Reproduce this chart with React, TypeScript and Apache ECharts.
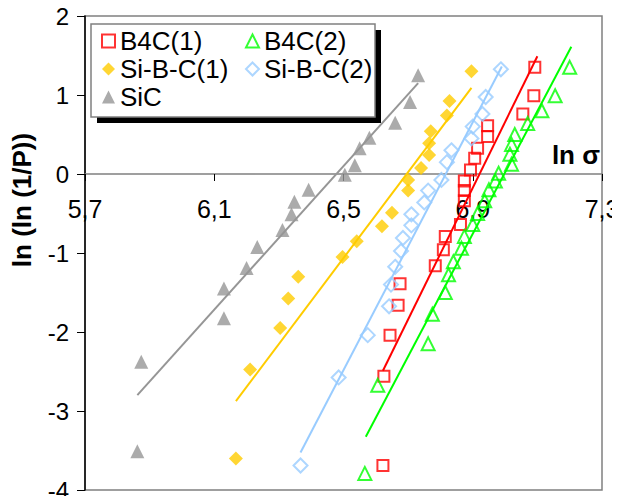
import React, { useEffect, useRef } from "react";
import * as echarts from "echarts";

// ---- Data ----
const xTicks = ["5,7", "6,1", "6,5", "6,9", "7,3"];

const b4c1X = [6.622, 6.625, 6.644, 6.669, 6.675, 6.784, 6.809, 6.815, 6.862, 6.874, 6.874, 6.874, 6.893, 6.906, 6.915, 6.946, 6.946, 7.055, 7.089, 7.092];
const b4c1Y = [-3.69, -2.56, -2.04, -1.66, -1.39, -1.16, -0.96, -0.79, -0.64, -0.34, -0.21, -0.09, 0.05, 0.2, 0.325, 0.475, 0.61, 0.76, 0.99, 1.35];

const b4c2X = [6.566, 6.606, 6.762, 6.775, 6.815, 6.825, 6.84, 6.865, 6.874, 6.9, 6.915, 6.937, 6.95, 6.97, 6.98, 7.02, 7.015, 7.02, 7.03, 7.07, 7.114, 7.155, 7.2];
const b4c2Y = [-3.79, -2.675, -2.15, -1.775, -1.5, -1.275, -1.11, -0.94, -0.79, -0.64, -0.5, -0.34, -0.2, -0.09, 0.01, 0.125, 0.25, 0.375, 0.5, 0.64, 0.8, 0.99, 1.35];

const sbc1X = [6.167, 6.211, 6.304, 6.329, 6.36, 6.497, 6.541, 6.619, 6.65, 6.7, 6.7, 6.74, 6.765, 6.765, 6.77, 6.82, 6.828, 6.896];
const sbc1Y = [-3.6, -2.475, -1.95, -1.575, -1.3, -1.05, -0.85, -0.66, -0.49, -0.21, -0.075, 0.075, 0.24, 0.39, 0.54, 0.74, 0.925, 1.3];

const sbc2X = [6.367, 6.485, 6.575, 6.641, 6.647, 6.66, 6.678, 6.684, 6.71, 6.71, 6.75, 6.762, 6.803, 6.82, 6.834, 6.896, 6.9, 6.93, 6.94, 6.987];
const sbc2Y = [-3.69, -2.575, -2.04, -1.675, -1.4, -1.175, -0.975, -0.81, -0.65, -0.51, -0.36, -0.21, -0.075, 0.15, 0.3, 0.45, 0.6, 0.76, 0.975, 1.325];

const sicX = [5.862, 5.874, 6.13, 6.13, 6.2, 6.233, 6.311, 6.339, 6.348, 6.392, 6.504, 6.535, 6.55, 6.58, 6.66, 6.706, 6.731];
const sicY = [-3.51, -2.375, -1.825, -1.45, -1.19, -0.925, -0.71, -0.51, -0.35, -0.2, -0.01, 0.11, 0.325, 0.46, 0.65, 0.91, 1.25];

// trend-line end points [x, y]
const b4c1Fit = [[6.622, -2.49], [7.1, 1.49]];
const b4c2Fit = [[6.569, -3.325], [7.205, 1.61]];
const sbc1Fit = [[6.167, -2.875], [6.896, 1.09]];
const sbc2Fit = [[6.367, -3.525], [6.99, 1.36]];
const sicFit = [[5.862, -2.8], [6.731, 1.15]];

const zip = (xs: number[], ys: number[]) => xs.map((x, i) => [x, ys[i]]);

const FONT = "'Liberation Sans', Arial, sans-serif";

export default function App() {
  const ref = useRef<HTMLDivElement>(null);

  useEffect(() => {
    if (!ref.current) return;
    const chart = echarts.init(ref.current, undefined, { renderer: "svg" });

    const RED = "#FF0000";
    const GREEN = "#00FF00";
    const YELLOW = "#FFCC00";
    const BLUE = "#99CCFF";
    const GRAY = "#969696";

    const GRID_TOP = 16;
    const GRID_BOTTOM = 14;
    const H = 504;
    const Y_MIN = -4;
    const Y_MAX = 2;
    const plotH = H - GRID_TOP - GRID_BOTTOM;
    // distance from the bottom of the plot to the y = 0 line
    const zeroFromBottom = (plotH * (0 - Y_MIN)) / (Y_MAX - Y_MIN);

    const scatter = (name: string, data: number[][], symbol: string, size: number, itemStyle: any) => ({
      name,
      type: "scatter",
      data,
      symbol,
      symbolSize: size,
      itemStyle,
      z: 3,
    });
    const fit = (name: string, data: number[][], color: string) => ({
      name: name + " fit",
      type: "line",
      data,
      showSymbol: false,
      symbol: "none",
      silent: true,
      lineStyle: { color, width: 2 },
      z: 2,
    });

    const styles: Record<string, any> = {
      "B4C(1)": { color: "rgba(0,0,0,0)", borderColor: RED, borderWidth: 2 },
      "B4C(2)": { color: "rgba(0,0,0,0)", borderColor: GREEN, borderWidth: 2 },
      "Si-B-C(1)": { color: YELLOW, borderWidth: 0 },
      "Si-B-C(2)": { color: "rgba(0,0,0,0)", borderColor: BLUE, borderWidth: 2 },
      SiC: { color: GRAY, borderWidth: 0 },
    };
    const icons: Record<string, string> = {
      "B4C(1)": "rect",
      "B4C(2)": "triangle",
      "Si-B-C(1)": "diamond",
      "Si-B-C(2)": "diamond",
      SiC: "triangle",
    };
    const legendItem = (n: string) => ({ name: n, icon: icons[n], itemStyle: styles[n] });
    const legendCommon = {
      orient: "vertical",
      itemWidth: 13,
      itemHeight: 13,
      itemGap: 0,
      padding: 0,
      selectedMode: false,
      textStyle: { fontSize: 26, fontFamily: FONT, color: "#000", lineHeight: 28, padding: [0, 0, 0, 0] },
      z: 10,
    };

    chart.setOption({
      animation: false,
      backgroundColor: "#fff",
      grid: {
        left: 85,
        right: 18,
        top: GRID_TOP,
        bottom: GRID_BOTTOM,
        show: true,
        borderColor: "#808080",
        borderWidth: 1.5,
        outerBoundsMode: "none",
        containLabel: false,
      },
      xAxis: {
        type: "value",
        min: 5.7,
        max: 7.3,
        interval: 0.4,
        position: "bottom",
        offset: -zeroFromBottom,
        axisLine: { show: true, onZero: false, lineStyle: { color: "#808080", width: 1.5 } },
        axisTick: { show: true, length: 7, lineStyle: { color: "#000" } },
        axisLabel: {
          fontSize: 25,
          fontFamily: FONT,
          color: "#000",
          margin: 22,
          formatter: (v: number) => {
            const idx = Math.round((v - 5.7) / 0.4);
            return xTicks[idx] ?? "";
          },
        },
        splitLine: { show: false },
      },
      yAxis: {
        type: "value",
        min: Y_MIN,
        max: Y_MAX,
        interval: 1,
        axisLine: { show: true, onZero: false, lineStyle: { color: "#000", width: 1.5 } },
        axisTick: { show: true, length: 8, lineStyle: { color: "#000" } },
        axisLabel: { fontSize: 24, fontFamily: FONT, color: "#000", margin: 16, lineHeight: 24 },
        splitLine: { show: false },
      },
      legend: [
        {
          ...legendCommon,
          left: 101,
          top: 27,
          data: ["B4C(1)", "Si-B-C(1)", "SiC"].map(legendItem),
        },
        {
          ...legendCommon,
          left: 245,
          top: 27,
          data: ["B4C(2)", "Si-B-C(2)"].map(legendItem),
        },
      ],
      graphic: [
        { type: "rect", z: 1, shape: { x: 97, y: 30, width: 284, height: 93 }, style: { fill: "#000" } },
        {
          type: "rect",
          z: 1,
          shape: { x: 91, y: 24, width: 284, height: 93 },
          style: { fill: "#fff", stroke: "#808080", lineWidth: 1.5 },
        },
        {
          type: "text",
          z: 5,
          x: 600,
          y: 168,
          style: {
            text: "ln σ",
            fontSize: 26,
            fontWeight: "bold",
            fontFamily: FONT,
            fill: "#000",
            align: "right",
            verticalAlign: "bottom",
          },
        },
        {
          type: "text",
          z: 5,
          x: 22,
          y: 200,
          rotation: Math.PI / 2,
          style: {
            text: "ln (ln (1/P))",
            fontSize: 26,
            fontWeight: "bold",
            fontFamily: FONT,
            fill: "#000",
            align: "center",
            verticalAlign: "middle",
          },
        },
      ],
      series: [
        fit("B4C(1)", b4c1Fit, RED),
        fit("B4C(2)", b4c2Fit, GREEN),
        fit("Si-B-C(1)", sbc1Fit, YELLOW),
        fit("Si-B-C(2)", sbc2Fit, BLUE),
        fit("SiC", sicFit, GRAY),
        scatter("B4C(1)", zip(b4c1X, b4c1Y), "rect", 11, styles["B4C(1)"]),
        scatter("B4C(2)", zip(b4c2X, b4c2Y), "triangle", 13, styles["B4C(2)"]),
        scatter("Si-B-C(1)", zip(sbc1X, sbc1Y), "diamond", 14, styles["Si-B-C(1)"]),
        scatter("Si-B-C(2)", zip(sbc2X, sbc2Y), "diamond", 14, styles["Si-B-C(2)"]),
        scatter("SiC", zip(sicX, sicY), "triangle", 14, styles["SiC"]),
      ],
    });

    return () => chart.dispose();
  }, []);

  return <div ref={ref} style={{ width: 620, height: 504, margin: -8 }} />;
}
